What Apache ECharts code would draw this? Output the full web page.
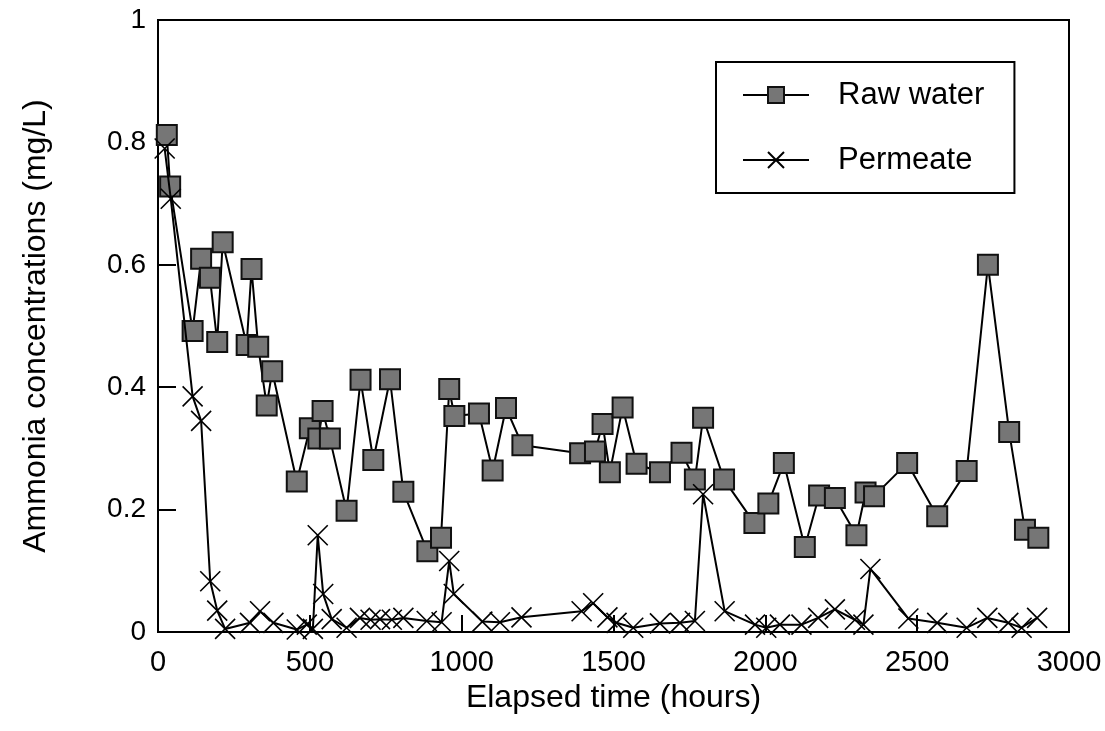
<!DOCTYPE html>
<html>
<head>
<meta charset="utf-8">
<script src="https://cdn.jsdelivr.net/npm/echarts@6/dist/echarts.min.js"></script>
<style>html,body{margin:0;padding:0;background:#fff}#c{width:1105px;height:731px}</style>
</head>
<body>
<div id="c"></div>
<script>
var xTicks = [0, 500, 1000, 1500, 2000, 2500, 3000];
var yTicks = [0, 0.2, 0.4, 0.6, 0.8, 1];

var rawHours = [29,40,114,142,171,195,213,292,308,330,358,376,457,500,528,542,566,621,667,709,764,808,887,932,959,976,1057,1102,1146,1200,1390,1439,1464,1488,1530,1576,1653,1724,1768,1795,1864,1964,2010,2061,2130,2177,2229,2300,2330,2358,2467,2566,2663,2733,2803,2855,2899];
var rawValues = [0.812,0.728,0.492,0.610,0.579,0.474,0.637,0.469,0.593,0.466,0.370,0.426,0.246,0.333,0.316,0.361,0.316,0.198,0.412,0.281,0.413,0.229,0.132,0.154,0.397,0.353,0.357,0.264,0.366,0.305,0.292,0.295,0.340,0.261,0.367,0.275,0.261,0.293,0.249,0.350,0.249,0.178,0.210,0.276,0.139,0.223,0.219,0.158,0.228,0.222,0.276,0.189,0.263,0.600,0.327,0.167,0.154];

var permHours = [22,42,114,142,172,195,221,303,336,380,457,490,510,526,544,572,621,665,700,731,770,808,885,934,959,974,1068,1126,1197,1395,1433,1480,1510,1565,1653,1719,1768,1795,1866,1966,2003,2048,2119,2174,2229,2295,2323,2346,2471,2566,2663,2731,2800,2844,2895];
var permValues = [0.790,0.708,0.385,0.345,0.083,0.035,0.005,0.015,0.034,0.015,0.004,0.012,0.005,0.158,0.062,0.021,0.007,0.023,0.020,0.021,0.020,0.023,0.018,0.016,0.116,0.062,0.017,0.016,0.024,0.034,0.047,0.024,0.015,0.007,0.014,0.015,0.018,0.225,0.034,0.012,0.007,0.012,0.012,0.023,0.037,0.020,0.012,0.103,0.022,0.015,0.007,0.023,0.015,0.007,0.023];

function zip(a, b) { return a.map(function (v, i) { return [v, b[i]]; }); }

var FONT = 'Liberation Sans, Arial, sans-serif';
var chart = echarts.init(document.getElementById('c'), null, {renderer: 'canvas'});
chart.setOption({
  animation: false,
  backgroundColor: '#fff',
  grid: {left: 158, top: 20, right: 36, bottom: 99, show: true, borderColor: '#000', borderWidth: 2, containLabel: false},
  legend: {
    orient: 'vertical', left: 716, top: 62,
    padding: [17, 30, 17, 26], itemGap: 33, itemWidth: 66, itemHeight: 20,
    borderColor: '#000', borderWidth: 2, backgroundColor: '#fff',
    textStyle: {fontFamily: FONT, fontSize: 31, lineHeight: 32, color: '#000', padding: [0, 0, 0, 24]},
    data: ['Raw water', 'Permeate']
  },
  xAxis: {
    type: 'value', min: 0, max: 3000, interval: 500,
    name: 'Elapsed time (hours)', nameLocation: 'middle', nameGap: 42,
    nameTextStyle: {fontFamily: FONT, fontSize: 32, color: '#000'},
    axisLine: {show: true, lineStyle: {color: '#000', width: 2}},
    axisTick: {show: true, inside: true, length: 17, lineStyle: {color: '#000', width: 2}},
    axisLabel: {fontFamily: FONT, fontSize: 29, color: '#000', margin: 16,
      formatter: function (v) { return xTicks.indexOf(v) >= 0 ? String(v) : ''; }},
    splitLine: {show: false}
  },
  yAxis: {
    type: 'value', min: 0, max: 1, interval: 0.2,
    name: 'Ammonia concentrations (mg/L)', nameLocation: 'middle', nameGap: 106,
    nameTextStyle: {fontFamily: FONT, fontSize: 32, color: '#000'},
    axisLine: {show: true, lineStyle: {color: '#000', width: 2}},
    axisTick: {show: true, inside: true, length: 18, lineStyle: {color: '#000', width: 2}},
    axisLabel: {fontFamily: FONT, fontSize: 28, color: '#000', margin: 12,
      formatter: function (v) { var r = Math.round(v * 10) / 10; return yTicks.indexOf(r) >= 0 ? String(r) : ''; }},
    splitLine: {show: false}
  },
  series: [
    {
      name: 'Raw water', type: 'line', data: zip(rawHours, rawValues),
      symbol: 'rect', symbolSize: 20, showAllSymbol: true,
      lineStyle: {color: '#000', width: 2},
      itemStyle: {color: '#767676', borderColor: '#111', borderWidth: 2},
      emphasis: {disabled: true}, z: 2
    },
    {
      name: 'Permeate', type: 'line', data: zip(permHours, permValues),
      symbol: 'path://M0,0L20,20M20,0L0,20', symbolSize: 20, showAllSymbol: true,
      lineStyle: {color: '#000', width: 2},
      itemStyle: {color: 'rgba(0,0,0,0)', borderColor: '#000', borderWidth: 1.6},
      emphasis: {disabled: true}, z: 3
    }
  ]
});
</script>
</body>
</html>
